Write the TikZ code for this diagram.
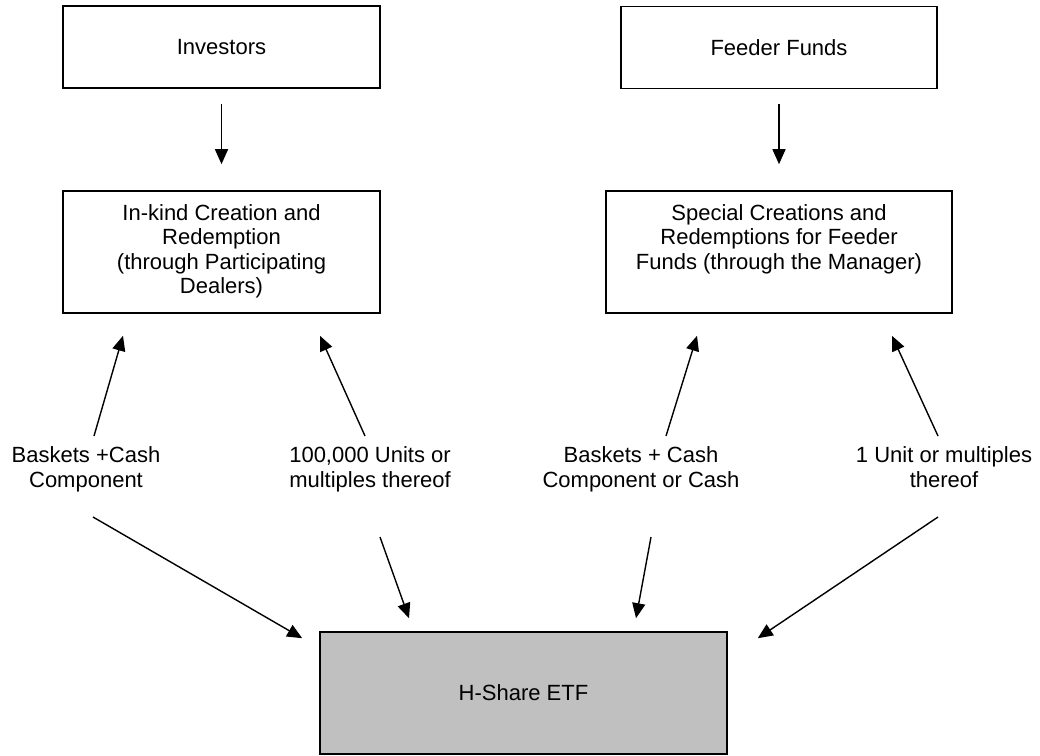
\documentclass[tikz,border=0pt]{standalone}
\usepackage{fontspec}
\setmainfont{Liberation Sans}
\usetikzlibrary{positioning,
        arrows.meta,
        calc}
\definecolor{etfgray}{RGB}{192,192,192}

\begin{document}
\begin{tikzpicture}[x=1pt,y=-1pt,
        font=\fontsize{22}{24.5}\selectfont,
        box/.style={draw,line width=1.6pt,align=center,inner sep=0pt},
        lbl/.style={align=center,inner sep=0pt},
        arr/.style={-{Triangle[length=15pt,width=13pt]},line width=1.4pt}]
            \useasboundingbox (0,0) rectangle (1040,755);
            \node [box,minimum width=317pt,minimum height=82pt] (inv) at (221.5,47) {Investors};
            \node [box,minimum width=316pt,minimum height=82pt] (feeder) at (779,47.5) {Feeder Funds};
            \node [box,minimum width=317pt,minimum height=122pt] (inkind) at (221.5,252) {\strut In-kind Creation and\\Redemption\\(through Participating\\Dealers)\strut};
            \node [box,minimum width=346pt,minimum height=122pt] (special) at (779,252) {\strut Special Creations and\\Redemptions for Feeder\\Funds (through the Manager)\\ \strut};
            \node [box,minimum width=407pt,minimum height=122pt,fill=etfgray] (etf) at (523.5,693) {H-Share ETF};

            \node [lbl] (lblA) at (86,470) {\strut Baskets +Cash\\Component\strut};
            \node [lbl] (lblB) at (370,470) {\strut 100,000 Units or\\multiples thereof\strut};
            \node [lbl] (lblC) at (641,470) {\strut Baskets + Cash\\Component or Cash\strut};
            \node [lbl] (lblD) at (944,470) {\strut 1 Unit or multiples\\thereof\strut};

            \draw [arr,shorten <=15pt,shorten >=26pt] (inv) -- (inkind);
            \draw [arr,shorten <=15pt,shorten >=26pt] (feeder) -- (special);

            % up to the two creation boxes
            \draw [arr] ($(lblA)+(8,-34)$) -- ($(inkind.south)+(-98.5,22)$);
            \draw [arr] ($(lblB)+(-5,-34)$) -- ($(inkind.south)+(98.5,22)$);
            \draw [arr] ($(lblC)+(25,-34)$) -- ($(special.south)+(-82,22)$);
            \draw [arr] ($(lblD)+(-6,-34)$) -- ($(special.south)+(113,22)$);

            % down to the ETF
            \draw [arr] ($(lblA)+(7,47)$) -- ($(etf.north west)+(-17,7)$);
            \draw [arr] ($(lblB)+(10,67)$) -- ($(etf.north)+(-114.5,-13)$);
            \draw [arr] ($(lblC)+(10,67)$) -- ($(etf.north)+(112.5,-13)$);
            \draw [arr] ($(lblD)+(-6,47)$) -- ($(etf.north east)+(30,7)$);
        \end{tikzpicture}
\end{document}
